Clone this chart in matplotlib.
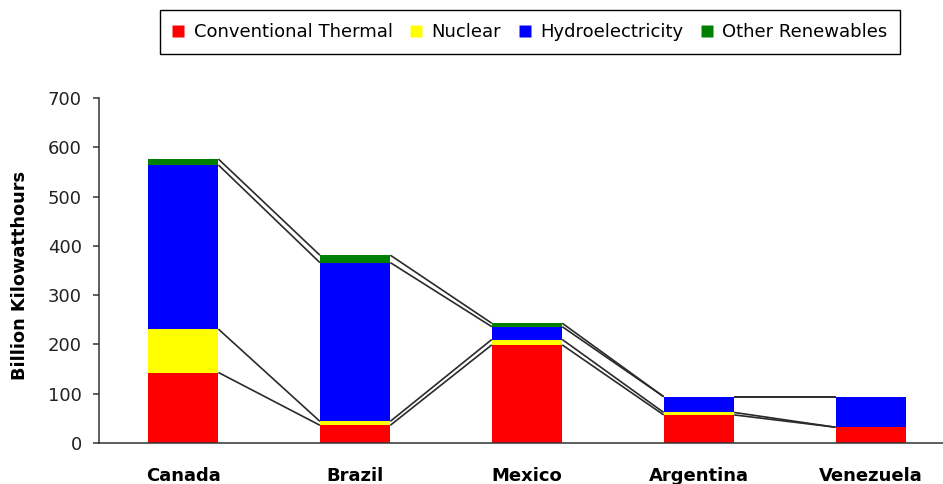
import matplotlib
matplotlib.use("Agg")
import matplotlib.pyplot as plt
from matplotlib.lines import Line2D

# data (billion kWh)
countries = ["Canada", "Brazil", "Mexico", "Argentina", "Venezuela"]
thermal = [143, 36, 199, 57, 32]
nuclear = [88, 8, 11, 5, 0]
hydro = [333, 322, 26, 32, 62]
other = [12, 15, 7, 0, 0]

series_names = ["Conventional Thermal", "Nuclear", "Hydroelectricity", "Other Renewables"]
series_colors = ["#FF0000", "#FFFF00", "#0000FF", "#008000"]

plt.rcParams['font.family'] = ['DejaVu Sans']

fig = plt.figure(figsize=(9.43, 4.84), dpi=100)
ax = fig.add_axes([99 / 943, 1 - 443 / 484, 1 - 99 / 943, (443 - 98) / 484])

x = list(range(len(countries)))
w = 0.41
bottom = [0] * len(countries)
tops = []
for vals, col in zip([thermal, nuclear, hydro, other], series_colors):
    ax.bar(x, vals, width=w, bottom=bottom, color=col, edgecolor='none', zorder=2)
    bottom = [b + v for b, v in zip(bottom, vals)]
    tops.append(list(bottom))

# series lines between neighbouring bars
for t in tops:
    for i in range(len(x) - 1):
        ax.plot([x[i] + w / 2, x[i + 1] - w / 2], [t[i], t[i + 1]],
                color='#2a2a2a', lw=1.2, zorder=3, solid_capstyle='butt')

ax.set_ylim(0, 700)
ax.set_yticks(range(0, 701, 100))
ax.set_xlim(-0.49, 4.42)
ax.set_xticks(x)
ax.set_xticklabels(countries, fontsize=13, fontweight='bold')
ax.tick_params(axis='x', length=0, pad=17)
ax.tick_params(axis='y', direction='out', length=4.5, width=1.1, color='#333333',
               labelsize=13, pad=8, labelcolor='#222222')

for s in ['top', 'right']:
    ax.spines[s].set_visible(False)
for s in ['left', 'bottom']:
    ax.spines[s].set_color('#333333')
    ax.spines[s].set_linewidth(1.1)

fig.text(20 / 943, 1 - 275 / 484, "Billion Kilowatthours", rotation=90, fontsize=12.8,
         fontweight='bold', ha='center', va='center')

handles = [Line2D([], [], marker='s', linestyle='none', markersize=8.5,
                  markerfacecolor=c, markeredgecolor='none') for c in series_colors]
leg = fig.legend(handles, series_names, loc='center', ncol=4,
                 bbox_to_anchor=(530 / 943, 1 - 32 / 484), fontsize=13,
                 frameon=True, fancybox=False, edgecolor='black', framealpha=1,
                 handlelength=0.6, handletextpad=0.55, columnspacing=1.0,
                 borderpad=0.7, borderaxespad=0)
leg.get_frame().set_linewidth(1.0)

fig.savefig("out.png", dpi=100)
